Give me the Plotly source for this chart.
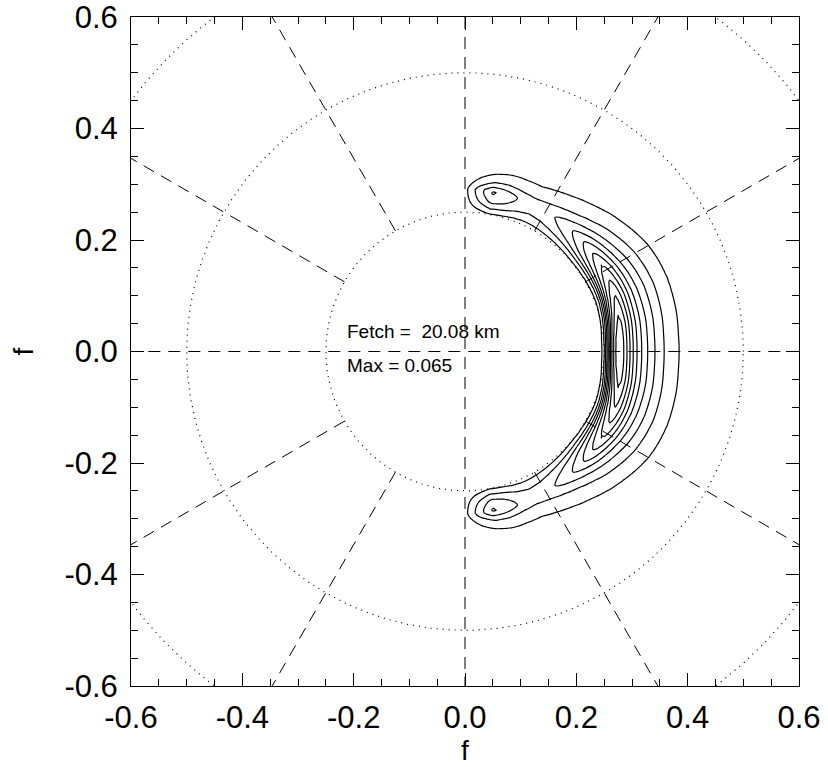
import numpy as np
import plotly.graph_objects as go

# ---- data ----
# ridge of the directional spectrum (symmetric about direction 0)
ridge_angle_deg = [0, 5, 10, 15, 20, 25, 30, 35, 40, 45, 50, 55, 60, 65, 70, 75, 80, 85, 90]
ridge_value = [0.065, 0.0645, 0.062, 0.058, 0.054, 0.049, 0.044, 0.0385, 0.033, 0.027,
               0.022, 0.0185, 0.016, 0.015, 0.017, 0.0215, 0.0245, 0.015, 0.004]
ridge_freq = [0.277, 0.278, 0.281, 0.284, 0.287, 0.289, 0.290, 0.290, 0.290, 0.290,
              0.290, 0.290, 0.290, 0.290, 0.290, 0.290, 0.290, 0.290, 0.290]
# radial spread of the low-frequency (inner) and high-frequency (outer) flanks
width_angle_deg = [0, 10, 20, 30, 40, 50, 60, 70, 80, 90]
width_inner = [1.0, 1.05, 1.15, 1.3, 1.4, 1.45, 1.5, 1.5, 1.5, 1.5]
width_outer = [1.0, 0.98, 0.96, 0.93, 0.88, 0.84, 0.8, 0.66, 0.45, 0.45]
# normalised radial (frequency) profile vs f / f_peak
shape_ratio = [0.86, 0.88, 0.90, 0.92, 0.94, 0.96, 0.98, 1.0, 1.02, 1.05, 1.08, 1.11,
               1.15, 1.20, 1.25, 1.30, 1.36, 1.42, 1.50, 1.60]
shape_value = [0.0, 0.05, 0.15, 0.35, 0.6, 0.8, 0.93, 1.0, 0.95, 0.82, 0.68, 0.56,
               0.44, 0.33, 0.24, 0.17, 0.11, 0.07, 0.035, 0.0]
max_value = 0.065
n_levels = 10

ring_radii = [0.25, 0.5, 0.75]
spoke_angles_deg = [30, 60, 120, 150, 210, 240, 300, 330]
axis_spokes_deg = [0, 90]

tick_vals = [-0.6, -0.4, -0.2, 0.0, 0.2, 0.4, 0.6]
tick_text = ["-0.6", "-0.4", "-0.2", "0.0", "0.2", "0.4", "0.6"]

fetch_text = "Fetch =\u00a0\u00a020.08 km"
max_text = "Max = 0.065"

# ---- build the field on a cartesian grid ----
gx = np.arange(-0.05, 0.5001, 0.005)
gy = np.arange(-0.45, 0.4501, 0.005)
X, Y = np.meshgrid(gx, gy)
R = np.hypot(X, Y)
TH = np.degrees(np.abs(np.arctan2(Y, X)))
peak = np.interp(TH, ridge_angle_deg, ridge_value, right=0.0)
fp = np.interp(TH, ridge_angle_deg, ridge_freq)
w_in = np.interp(TH, width_angle_deg, width_inner)
w_out = np.interp(TH, width_angle_deg, width_outer)
dev = R / fp - 1.0
dev = np.where(dev < 0, dev / w_in, dev / w_out)
Z = peak * np.interp(1.0 + dev, shape_ratio, shape_value, left=0.0, right=0.0)

lvl = max_value / (n_levels + 1)

FONT = "Liberation Sans, Arial, Helvetica, sans-serif"

fig = go.Figure()

t = np.linspace(0, 2 * np.pi, 721)
for rr in ring_radii:
    fig.add_trace(go.Scatter(x=rr * np.cos(t), y=rr * np.sin(t), mode="lines",
                             line=dict(color="black", width=1.2, dash="1px,5px"),
                             hoverinfo="skip", showlegend=False))

for a in spoke_angles_deg:
    ar = np.radians(a)
    rr = np.array([ring_radii[0], 1.0])
    fig.add_trace(go.Scatter(x=rr * np.cos(ar), y=rr * np.sin(ar), mode="lines",
                             line=dict(color="black", width=1, dash="12px,8px"),
                             hoverinfo="skip", showlegend=False))
for a in axis_spokes_deg:
    ar = np.radians(a)
    rr = np.array([-1.0, 1.0])
    fig.add_trace(go.Scatter(x=rr * np.cos(ar), y=rr * np.sin(ar), mode="lines",
                             line=dict(color="black", width=1, dash="12px,8px"),
                             hoverinfo="skip", showlegend=False))

fig.add_trace(go.Contour(
    x=gx, y=gy, z=Z,
    contours=dict(start=lvl, end=n_levels * lvl + lvl * 0.01, size=lvl, coloring="lines"),
    colorscale=[[0, "black"], [1, "black"]],
    line=dict(width=1.2), showscale=False, hoverinfo="skip"))

fig.add_annotation(x=-0.2155, y=0.036, text=fetch_text, showarrow=False,
                   xanchor="left", yanchor="middle",
                   font=dict(family=FONT, size=19, color="black"))
fig.add_annotation(x=-0.2155, y=-0.025, text=max_text, showarrow=False,
                   xanchor="left", yanchor="middle",
                   font=dict(family=FONT, size=19, color="black"))

axis_common = dict(
    range=[-0.6, 0.6], tickvals=tick_vals, ticktext=tick_text,
    ticks="inside", ticklen=13, tickwidth=1, tickcolor="black",
    minor=dict(ticks="inside", ticklen=7, dtick=0.05, tick0=0, tickcolor="black", tickwidth=1),
    showline=True, linecolor="black", linewidth=1, mirror="ticks",
    showgrid=False, zeroline=False, automargin=False, ticklabeloverflow="allow",
    tickfont=dict(family=FONT, size=31, color="black"),
)

fig.update_layout(
    width=828, height=767,
    margin=dict(l=131, r=29, t=17, b=81),
    paper_bgcolor="white", plot_bgcolor="white",
    showlegend=False,
    xaxis=dict(**axis_common, title=dict(text="f", standoff=6,
               font=dict(family=FONT, size=28, color="black")),
               ticklabelstandoff=4),
    yaxis=dict(**axis_common, title=dict(text="f", standoff=22,
               font=dict(family=FONT, size=28, color="black")),
               ticklabelstandoff=6),
)

fig.write_html("out.html",
               config={"displayModeBar": False, "staticPlot": True},
               post_script="document.body.style.margin='0';document.body.style.overflow='hidden';")
